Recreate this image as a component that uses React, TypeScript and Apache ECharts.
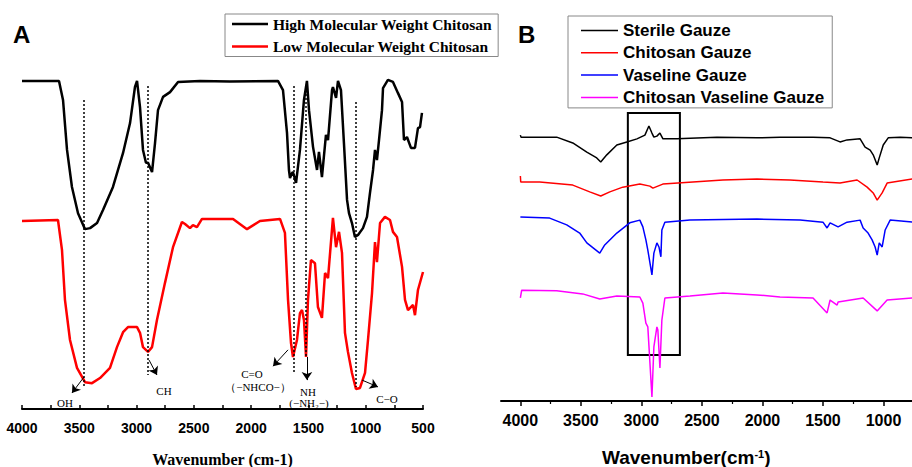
import React, { useEffect, useRef } from "react";
import * as echarts from "echarts";

// ---------- Panel A data (wavenumber, relative transmittance) ----------
const highMW: [number, number][] = [
  [4000, 96.5], [3677, 96.5], [3642, 90.9], [3607, 76.2], [3564, 65.3], [3511, 57.6], [3450, 52.9],
  [3406, 53.2], [3345, 54.7], [3293, 58.5], [3206, 65.3], [3118, 75.3], [3057, 84.1], [3014, 94.7],
  [2996, 96.5], [2970, 88.8], [2944, 76.2], [2918, 72.4], [2900, 72.4], [2865, 69.7], [2839, 78.2],
  [2813, 87.9], [2769, 91.8], [2708, 93.2], [2638, 96.2], [2446, 96.5], [2185, 96.3], [1766, 96.5],
  [1722, 93.8], [1687, 81.2], [1670, 70.3], [1661, 67.9], [1643, 69.4], [1635, 69.7], [1608, 66.5],
  [1574, 76.2], [1539, 90.9], [1513, 96.5], [1495, 87.9], [1460, 77.1], [1425, 70.3], [1408, 75.6],
  [1382, 68.2], [1347, 80.6], [1329, 79.1], [1294, 93.8], [1286, 94.7], [1259, 91.5], [1242, 96.5],
  [1216, 93.8], [1190, 78.2], [1163, 61.5], [1146, 57.6], [1120, 54.7], [1094, 50.6], [1067, 51.2],
  [1024, 53.2], [989, 56.5], [963, 63.5], [936, 70.3], [919, 76.2], [902, 73.2], [884, 79.1],
  [858, 87.9], [849, 94.4], [806, 96.8], [762, 96.2], [718, 92.9], [683, 90.3], [666, 79.1],
  [640, 80.0], [605, 76.8], [570, 76.8], [544, 82.6], [526, 82.9], [509, 87.1],
];

const lowMW: [number, number][] = [
  [4000, 55.3], [3686, 55.6], [3651, 46.8], [3625, 32.1], [3581, 20.3], [3520, 12.1], [3450, 7.9],
  [3389, 7.6], [3319, 9.1], [3232, 12.1], [3171, 18.2], [3118, 22.6], [3075, 24.1], [2996, 24.1],
  [2970, 22.4], [2944, 18.2], [2900, 16.8], [2865, 18.2], [2822, 26.2], [2752, 37.1], [2682, 47.6],
  [2604, 55.0], [2577, 54.4], [2534, 53.2], [2508, 54.1], [2473, 53.5], [2429, 55.9], [2158, 55.9],
  [2036, 52.9], [1923, 55.3], [1748, 55.9], [1705, 51.8], [1678, 32.1], [1652, 19.4], [1635, 15.3],
  [1600, 20.3], [1574, 28.2], [1556, 29.1], [1539, 26.2], [1521, 15.3], [1504, 32.1], [1478, 43.8],
  [1443, 42.9], [1417, 30.0], [1382, 26.8], [1355, 40.0], [1329, 38.5], [1286, 56.2], [1259, 47.6],
  [1233, 52.1], [1207, 45.9], [1181, 22.4], [1155, 16.8], [1120, 10.6], [1085, 5.9], [1050, 6.2],
  [1006, 10.6], [980, 20.3], [945, 34.1], [919, 49.1], [902, 43.2], [875, 54.7], [832, 56.5],
  [788, 55.6], [762, 52.1], [727, 50.6], [683, 41.8], [657, 32.1], [631, 29.1], [587, 30.6],
  [570, 27.6], [544, 35.0], [500, 40.3],
];

// dotted peak lines: [wavenumber, top, bottom]
const peakLinesA: [number, number, number][] = [
  [3459, 90.9, 6.2], [2900, 95.0, 10.0], [1626, 95.0, 10.3], [1521, 95.0, 15.3], [1085, 90.3, 6.5],
];
// arrows: [[x1, y1], [x2, y2]]
const arrowsA: [number, number][][] = [
  [[3459, 9.4], [3564, 4.7]],
  [[2891, 14.4], [2822, 10.0]],
  [[1678, 17.4], [1809, 12.6]],
  [[1513, 15.3], [1513, 8.5]],
  [[1032, 8.5], [893, 6.5]],
];

// ---------- Panel B data ----------
const sterileGauze: [number, number][] = [
  [4000, 78.2], [3995, 77.6], [3700, 77.6], [3567, 75.9], [3451, 73.2], [3369, 71.5], [3336, 70.3],
  [3286, 72.4], [3203, 75.3], [3120, 76.2], [3037, 77.1], [2971, 78.2], [2938, 80.9], [2913, 78.8],
  [2897, 77.6], [2872, 77.9], [2847, 78.8], [2822, 77.1], [2707, 77.1], [2376, 77.6], [2045, 77.4],
  [1855, 77.6], [1582, 77.6], [1441, 77.4], [1359, 76.2], [1301, 76.8], [1193, 77.1], [1152, 74.7],
  [1110, 73.8], [1085, 72.4], [1052, 69.4], [1035, 71.5], [1002, 75.3], [961, 77.4], [862, 77.6],
  [763, 77.4], [650, 77.4],
];
const chitosanGauze: [number, number][] = [
  [4000, 66.2], [3997, 64.4], [3840, 64.4], [3567, 63.5], [3427, 61.5], [3336, 60.3], [3261, 61.5],
  [3154, 62.9], [3013, 63.8], [2930, 63.2], [2905, 62.6], [2823, 63.8], [2327, 65.0], [2045, 65.3],
  [1773, 65.0], [1500, 64.4], [1359, 64.1], [1218, 65.0], [1135, 62.9], [1085, 61.2], [1052, 59.1],
  [1011, 61.2], [970, 64.1], [763, 65.3], [650, 65.3],
];
const vaselineGauze: [number, number][] = [
  [4000, 54.1], [3758, 53.8], [3617, 51.8], [3510, 49.4], [3451, 46.5], [3344, 43.5], [3303, 45.9],
  [3203, 49.4], [3096, 52.4], [3013, 53.2], [2988, 51.2], [2963, 47.4], [2947, 44.4], [2913, 37.1],
  [2897, 43.5], [2872, 46.5], [2855, 45.3], [2839, 42.4], [2831, 50.3], [2806, 52.6], [2599, 53.2],
  [2045, 53.5], [1689, 53.2], [1500, 52.6], [1466, 50.9], [1441, 52.4], [1375, 51.2], [1301, 52.6],
  [1193, 53.2], [1168, 50.9], [1127, 49.4], [1094, 47.4], [1069, 45.3], [1052, 42.9], [1035, 46.5],
  [1011, 45.3], [986, 50.3], [945, 53.2], [755, 52.6], [650, 52.6],
];
const chitosanVaselineGauze: [number, number][] = [
  [4000, 30.3], [3989, 32.6], [3700, 32.4], [3485, 31.5], [3344, 30.0], [3203, 30.9], [3013, 30.6],
  [2988, 28.8], [2963, 22.9], [2947, 21.8], [2913, 1.2], [2897, 15.9], [2872, 21.8], [2864, 20.9],
  [2847, 9.7], [2831, 23.8], [2806, 30.3], [2599, 30.9], [2327, 31.8], [2045, 31.2], [1855, 30.6],
  [1582, 30.3], [1466, 25.9], [1441, 29.7], [1383, 28.2], [1375, 29.1], [1168, 30.3], [1052, 26.5],
  [970, 29.7], [755, 30.3], [650, 30.3],
];
const boxB: [number, number][] = [[3112, 84.7], [2682, 13.5]];

const majorTicksB = [4000, 3500, 3000, 2500, 2000, 1500, 1000, 500];
const labelTicksB = [4000, 3500, 3000, 2500, 2000, 1500, 1000];
const minorTicksB = [3750, 3250, 2750, 2250, 1750, 1250, 750];

const serif = "'Liberation Serif', 'Times New Roman', serif";
const sans = "'Liberation Sans', Arial, sans-serif";

export default function App() {
  const ref = useRef<HTMLDivElement>(null);
  useEffect(() => {
    if (!ref.current) return;
    const chart = echarts.init(ref.current, null, { renderer: "svg" });
    const option: any = {
      animation: false,
      backgroundColor: "#fff",
      grid: [
        { left: 22, top: 69, width: 401, height: 340, outerBoundsMode: "none", containLabel: false },
        { left: 501, top: 61, width: 443, height: 340, outerBoundsMode: "none", containLabel: false },
      ],
      xAxis: [
        {
          gridIndex: 0, type: "value", position: "bottom", min: 500, max: 4000, interval: 250, inverse: true,
          axisLine: { onZero: false, lineStyle: { color: "#000", width: 2 } },
          axisTick: { inside: true, length: 4, lineStyle: { color: "#000", width: 1.5 } },
          axisLabel: {
            formatter: (v: number) => (v % 500 === 0 ? String(v) : ""),
            color: "#000", fontWeight: "bold", fontSize: 14, fontFamily: sans, margin: 12,
            showMinLabel: true, showMaxLabel: true,
          },
          splitLine: { show: false },
          name: "Wavenumber (cm-1)", nameLocation: "middle", nameGap: 42,
          nameTextStyle: { fontFamily: serif, fontWeight: "bold", fontSize: 16, color: "#000" },
        },
        {
          gridIndex: 1, type: "value", position: "bottom", min: 500, max: 4160, inverse: true,
          axisLine: { onZero: false, lineStyle: { color: "#000", width: 2 } },
          axisTick: { customValues: majorTicksB, length: 5, lineStyle: { color: "#000", width: 1.5 } },
          axisLabel: {
            customValues: labelTicksB, formatter: (v: number) => String(v),
            color: "#000", fontWeight: "bold", fontSize: 16, fontFamily: sans, margin: 11,
          },
          splitLine: { show: false },
        },
        {
          gridIndex: 1, type: "value", position: "bottom", min: 500, max: 4160, inverse: true,
          axisLine: { show: false, onZero: false },
          axisTick: { customValues: minorTicksB, length: 3, lineStyle: { color: "#000", width: 1.2 } },
          axisLabel: { show: false },
          splitLine: { show: false },
        },
      ],
      yAxis: [
        { gridIndex: 0, type: "value", min: 0, max: 100, show: false },
        { gridIndex: 1, type: "value", min: 0, max: 100, show: false },
      ],
      legend: [
        {
          data: ["High Molecular Weight Chitosan", "Low Molecular Weight Chitosan"],
          orient: "vertical", left: 225, top: 14, icon: "rect", itemWidth: 36, itemHeight: 2.5,
          itemGap: 6.5, padding: [2, 6, 2, 7], borderColor: "#888", borderWidth: 1,
          selectedMode: false,
          textStyle: { fontFamily: serif, fontWeight: "bold", fontSize: 15.5, color: "#000" },
        },
        {
          data: ["Sterile Gauze", "Chitosan Gauze", "Vaseline Gauze", "Chitosan Vaseline Gauze"],
          orient: "vertical", left: 568, top: 16, icon: "rect", itemWidth: 37, itemHeight: 1.5,
          itemGap: 5.3, padding: [6, 8, 2, 13], borderColor: "#888", borderWidth: 1,
          selectedMode: false,
          textStyle: { fontFamily: sans, fontWeight: "bold", fontSize: 17, color: "#000" },
        },
      ],
      series: [
        {
          name: "High Molecular Weight Chitosan", type: "line", xAxisIndex: 0, yAxisIndex: 0,
          data: highMW, symbol: "none", lineStyle: { color: "#000", width: 2.5 }, itemStyle: { color: "#000" },
          markLine: {
            silent: true, symbol: ["none", "none"], label: { show: false },
            lineStyle: { color: "#000", width: 1.5, type: [2, 2] },
            data: peakLinesA.map(([w, a, b]) => [{ coord: [w, a] }, { coord: [w, b] }]),
          },
        },
        {
          name: "Low Molecular Weight Chitosan", type: "line", xAxisIndex: 0, yAxisIndex: 0,
          data: lowMW, symbol: "none", lineStyle: { color: "#ff0000", width: 2.5 }, itemStyle: { color: "#ff0000" },
          markLine: {
            silent: true, symbol: ["none", "arrow"], symbolSize: 8, label: { show: false },
            lineStyle: { color: "#000", width: 1, type: "solid" },
            data: arrowsA.map(([p, q]) => [{ coord: p }, { coord: q }]),
          },
        },
        {
          name: "Sterile Gauze", type: "line", xAxisIndex: 1, yAxisIndex: 1, data: sterileGauze,
          symbol: "none", lineStyle: { color: "#000", width: 1.5 }, itemStyle: { color: "#000" },
          markArea: {
            silent: true,
            itemStyle: { color: "rgba(0,0,0,0)", borderColor: "#000", borderWidth: 2 },
            data: [[{ coord: boxB[0] }, { coord: boxB[1] }]],
          },
        },
        {
          name: "Chitosan Gauze", type: "line", xAxisIndex: 1, yAxisIndex: 1, data: chitosanGauze,
          symbol: "none", lineStyle: { color: "#ff0000", width: 1.5 }, itemStyle: { color: "#ff0000" },
        },
        {
          name: "Vaseline Gauze", type: "line", xAxisIndex: 1, yAxisIndex: 1, data: vaselineGauze,
          symbol: "none", lineStyle: { color: "#0000ff", width: 1.5 }, itemStyle: { color: "#0000ff" },
        },
        {
          name: "Chitosan Vaseline Gauze", type: "line", xAxisIndex: 1, yAxisIndex: 1, data: chitosanVaselineGauze,
          symbol: "none", lineStyle: { color: "#ff00ff", width: 1.5 }, itemStyle: { color: "#ff00ff" },
        },
      ],
      graphic: [
        { type: "text", x: 13, y: 34.5, style: { text: "A", fontFamily: sans, fontWeight: "bold", fontSize: 24, fill: "#000", verticalAlign: "middle" } },
        { type: "text", x: 518, y: 34, style: { text: "B", fontFamily: sans, fontWeight: "bold", fontSize: 24, fill: "#000", verticalAlign: "middle" } },
        ...[
          ["OH", 65, 403], ["CH", 164, 391], ["C=O", 252, 374], ["（−NHCO−）", 258, 387],
          ["NH", 308, 392], ["(−NH₂−)", 309, 403], ["C−O", 387, 399],
        ].map(([t, x, y]) => ({
          type: "text", x, y,
          style: { text: t, fontFamily: serif, fontSize: 11, fill: "#000", align: "center", verticalAlign: "middle" },
        })),
        {
          type: "text", x: 602, y: 448,
          style: {
            text: "{m|Wavenumber(cm}{s|-1}{m|)}",
            verticalAlign: "top",
            rich: {
              m: { fontFamily: sans, fontWeight: "bold", fontSize: 19, fill: "#000", verticalAlign: "bottom" },
              s: { fontFamily: sans, fontWeight: "bold", fontSize: 11, fill: "#000", verticalAlign: "top" },
            },
          },
        },
      ],
    };
    chart.setOption(option);
    return () => chart.dispose();
  }, []);
  return <div ref={ref} style={{ position: "absolute", left: 0, top: 0, width: 912, height: 467 }} />;
}
